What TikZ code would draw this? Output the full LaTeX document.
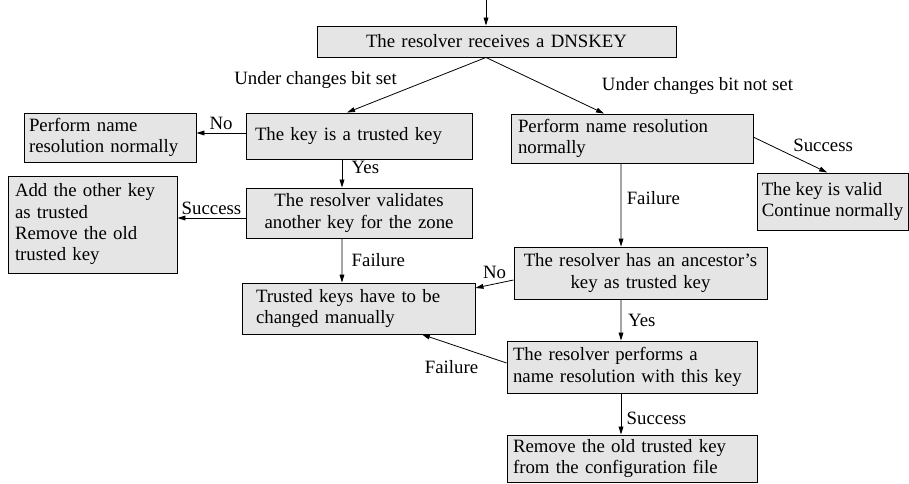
\documentclass[tikz,border=0pt]{standalone}
\usepackage{fontspec}
\setmainfont{Liberation Serif}
\usetikzlibrary{arrows.meta}
\definecolor{boxgray}{RGB}{229,229,229}

\begin{document}
\begin{tikzpicture}[
            x = 0.75pt, y = -0.75pt, % pixel grid
            > = {Triangle[length=6pt,width=3.6pt]}, % arrow head style
            line width = 0.6pt,
            font = \fontsize{14.1}{16}\selectfont
        ]

        \tikzstyle{box}=[
            draw,
            fill = boxgray,
            line width = 0.7pt,
            inner ysep = 0pt
        ]
        \tikzstyle{lbl}=[inner sep = 2pt]

        \useasboundingbox (0,0) rectangle (909,484);

        \coordinate (start) at (486,0);
        \node[box, text width=269.25pt, inner xsep=0pt, align=center, minimum height=23.25pt] (T) at (496.5,41.5) {The resolver receives a DNSKEY};

        % left branch
        \node[box, text width=156pt, inner xsep=6.75pt, align=left, minimum height=34.5pt] (K1) at (359,136) {The key is a trusted key};
        \node[box, text width=121.5pt, inner xsep=3.75pt, align=left, minimum height=36.75pt] (L1) at (110,137.5) {Perform name\\resolution normally};
        \node[box, text width=169.5pt, inner xsep=0pt, align=center, minimum height=37.5pt] (K2) at (359,213) {The resolver validates\\another key for the zone};
        \node[box, text width=116.25pt, inner xsep=5.25pt, align=left, minimum height=72.75pt] (L2) at (92.5,224.5) {Add the other key\\as trusted\\Remove the old\\trusted key};
        \node[box, text width=153.75pt, inner xsep=10.5pt, align=left, minimum height=38.25pt] (M) at (358.5,308.5) {Trusted keys have to be\\changed manually};

        % right branch
        \node[box, text width=171pt, inner xsep=5.25pt, align=left, minimum height=36.75pt] (R1) at (632,138.5) {Perform name resolution\\normally};
        \node[box, minimum width=113.25pt, inner xsep=0pt, align=left, minimum height=42.75pt] (V) at (832.5,201.5) {The key is valid\\Continue normally};
        \node[box, text width=189.75pt, inner xsep=0pt, align=center, minimum height=39pt] (A) at (640.5,273) {The resolver has an ancestor's\\key as trusted key};
        \node[box, text width=178.5pt, inner xsep=4.5pt, align=left, minimum height=39pt] (P) at (632,367) {The resolver performs a\\name resolution with this key};
        \node[box, text width=178.5pt, inner xsep=4.5pt, align=left, minimum height=35.25pt] (X) at (632,458.5) {Remove the old trusted key\\from the configuration file};

        \path[->] (start) edge (start |- T.north);
        \path[->] (start |- T.south) edge node[lbl, pos=0.62, anchor=south east] {Under changes bit set} ([xshift=-9pt]K1.north);
        \path[->] (start |- T.south) edge node[lbl, pos=0.9, anchor=south west, xshift=5pt, yshift=8pt] {Under changes bit not set} ([xshift=-21pt]R1.north);

        \path[->] ([yshift=2.25pt]K1.west) edge node[lbl, above] {No} ([yshift=2.25pt]K1.west -| L1.east);
        \path[->] ([xshift=-12.75pt]K1.south) edge node[lbl, pos=0.3, right=5pt] {Yes} ([xshift=-12.75pt]K2.north);
        \path[->] ([yshift=-3.75pt]K2.west) edge node[lbl, above] {Success} ([yshift=-3.75pt]K2.west -| L2.east);
        \path[->] ([xshift=-12.75pt]K2.south) edge node[lbl, midway, right=5pt] {Failure} ([xshift=-12.4pt]M.north);

        \path[->] ([yshift=1pt]R1.east) edge node[lbl, midway, anchor=south west] {Success} ([xshift=-4pt]V.north);
        \path[->] ([xshift=-8.25pt]R1.south) edge node[lbl, pos=0.42, right=2pt] {Failure} ([xshift=-14.6pt]A.north);
        \path[->] ([yshift=-5.25pt]A.west) edge node[lbl, above=2pt] {No} ([yshift=15.4pt]M.east);
        \path[->] ([xshift=-14.6pt]A.south) edge node[lbl, midway, right=3pt] {Yes} ([xshift=-8.25pt]P.north);
        \path[->] ([yshift=3pt]P.west) edge node[lbl, pos=0.65, below=10pt] {Failure} ([xshift=47.6pt]M.south);
        \path[->] ([xshift=-8.25pt]P.south) edge node[lbl, pos=0.6, right=2pt] {Success} ([xshift=-8.25pt]X.north);

  \end{tikzpicture}
\end{document}
